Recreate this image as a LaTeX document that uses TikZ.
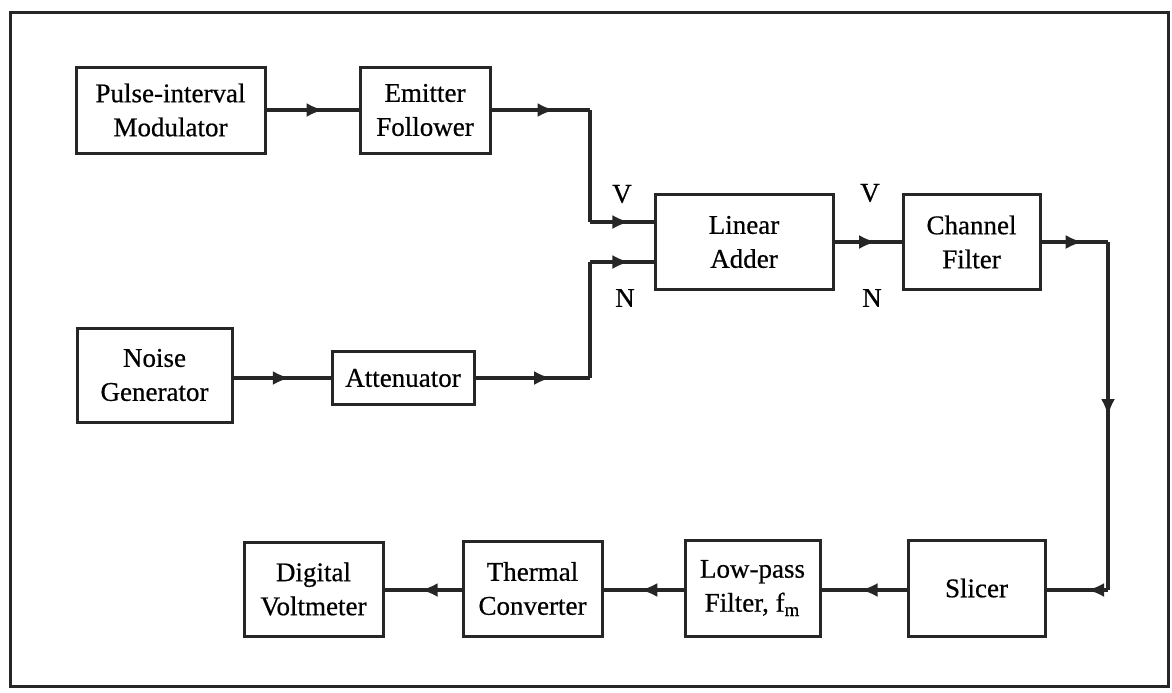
\documentclass[tikz,border=0pt]{standalone}
\usepackage{fontspec}
\setmainfont{Liberation Serif}
\newfontfamily\heavyserif{Liberation Serif}[FakeBold=0.6]
\usetikzlibrary{decorations.markings,arrows.meta}
\tikzset{
  blk/.style={draw=black!85, line width=1.5pt, align=center, inner sep=0pt,
    font=\heavyserif\fontsize{13.5}{17}\selectfont},
  conn/.style={draw=black!85, line width=1.6pt},
  midarr/.style={postaction={decorate}, decoration={markings,
    mark=at position #1 with {\arrow{Latex[length=8.5pt,width=7pt]}}}},
  lbl/.style={font=\heavyserif\fontsize{13.5}{17}\selectfont, inner sep=0pt}
}
\begin{document}
\begin{tikzpicture}[x=0.5pt,y=-0.5pt]
\useasboundingbox (0,0) rectangle (1172,692);
\draw[draw=black!85, line width=1.5pt] (10,12) rectangle (1168,686);
% nodes
\node[blk, minimum width=94.5pt, minimum height=43pt] (pm) at (170.5,110) {Pulse-interval\\Modulator};
\node[blk, minimum width=65pt, minimum height=43pt] (ef) at (425,110) {Emitter\\Follower};
\node[blk, minimum width=89pt, minimum height=47.5pt] (la) at (744,242) {Linear\\Adder};
\node[blk, minimum width=68.5pt, minimum height=47.5pt] (cf) at (971.5,242) {Channel\\Filter};
\node[blk, minimum width=77.5pt, minimum height=47pt] (ng) at (154.5,375) {Noise\\Generator};
\node[blk, minimum width=71pt, minimum height=26.5pt] (att) at (403,378) {Attenuator};
\node[blk, minimum width=68.5pt, minimum height=48pt] (sl) at (976.5,588) {Slicer};
\node[blk, minimum width=67.5pt, minimum height=48pt] (lpf) at (752.5,588) {Low-pass\\Filter, f\textsubscript{m}};
\node[blk, minimum width=69.5pt, minimum height=47.5pt] (tc) at (532.5,588.5) {Thermal\\Converter};
\node[blk, minimum width=69.5pt, minimum height=47pt] (dv) at (313.5,589) {Digital\\Voltmeter};
% labels
\node[lbl] (v1) at (622,194) {V};
\node[lbl] (n1) at (625,298) {N};
\node[lbl] (v2) at (870,193) {V};
\node[lbl] (n2) at (872,298) {N};
% coordinates
\coordinate (c1) at (590,110);
\coordinate (c2) at (590,222);
\coordinate (c3) at (590,378);
\coordinate (c4) at (590,262);
\coordinate (c5) at (1108,242);
\coordinate (c6) at (1108,590);
% connectors
\draw[conn, midarr=0.62] (pm.east) -- (ef.west);
\draw[conn, midarr=0.64] (ef.east) -- (c1);
\draw[conn] (c1) -- (c2);
\draw[conn, midarr=0.62] (c2) -- (c2 -| la.west);
\draw[conn, midarr=0.58] (ng.east |- att.west) -- (att.west);
\draw[conn, midarr=0.66] (att.east) -- (c3);
\draw[conn] (c3) -- (c4);
\draw[conn, midarr=0.62] (c4) -- (c4 -| la.west);
\draw[conn, midarr=0.62] (la.east) -- (cf.west);
\draw[conn, midarr=0.62] (cf.east) -- (c5);
\draw[conn, midarr=0.5] (c5) -- (c6);
\draw[conn, midarr=0.34] (c6) -- (c6 -| sl.east);
\draw[conn, midarr=0.54] (sl.west |- c6) -- (c6 -| lpf.east);
\draw[conn, midarr=0.54] (lpf.west |- c6) -- (c6 -| tc.east);
\draw[conn, midarr=0.53] (tc.west |- c6) -- (c6 -| dv.east);
\end{tikzpicture}
\end{document}
